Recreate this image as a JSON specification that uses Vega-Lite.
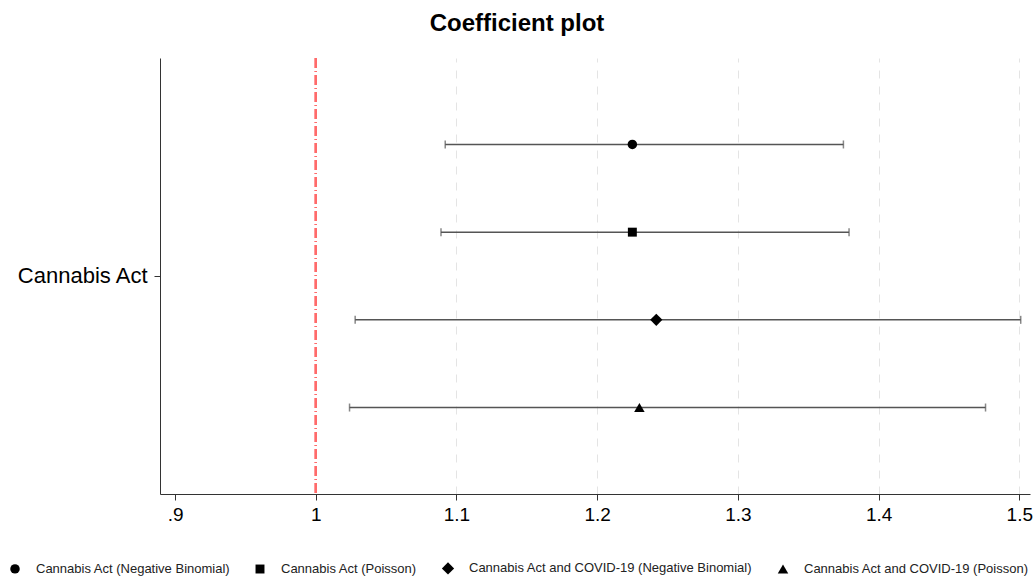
{
  "$schema": "https://vega.github.io/schema/vega-lite/v6.json",
  "width": 870,
  "height": 436,
  "autosize": "none",
  "padding": {"left": 160, "top": 58, "right": 5, "bottom": 85},
  "background": "white",
  "title": {"text": "Coefficient plot", "fontSize": 24, "fontWeight": "bold", "font": "Liberation Sans", "color": "black", "anchor": "middle", "frame": "group", "dx": -78, "offset": 21},
  "config": {"view": {"stroke": null}, "font": "Liberation Sans"},
  "data": {"values": [
    {"term": "Cannabis Act", "model": "Cannabis Act (Negative Binomial)", "est": 1.225, "lo": 1.092, "hi": 1.375},
    {"term": "Cannabis Act", "model": "Cannabis Act (Poisson)", "est": 1.225, "lo": 1.089, "hi": 1.379},
    {"term": "Cannabis Act", "model": "Cannabis Act and COVID-19 (Negative Binomial)", "est": 1.242, "lo": 1.028, "hi": 1.501},
    {"term": "Cannabis Act", "model": "Cannabis Act and COVID-19 (Poisson)", "est": 1.230, "lo": 1.024, "hi": 1.476}
  ]},
  "layer": [
    {
      "mark": {"type": "rule", "color": "#ff6b6b", "strokeWidth": 2, "strokeDash": [10, 3, 1, 3]},
      "encoding": {
        "x": {"datum": 1, "type": "quantitative", "scale": {"domain": [0.8893, 1.5076], "nice": false, "zero": false},
          "axis": {"values": [0.9, 1, 1.1, 1.2, 1.3, 1.4, 1.5], "title": null,
            "labelExpr": "datum.value == 0.9 ? '.9' : format(datum.value, '~g')",
            "labelFontSize": 19, "labelColor": "black", "labelPadding": 5, "labelFont": "Liberation Sans",
            "tickSize": 6, "tickColor": "#333", "domainColor": "#333", "tickWidth": 1, "domainWidth": 1,
            "grid": true, "gridDash": [8, 8], "gridWidth": 1,
            "gridColor": {"condition": {"test": "datum.value < 1.05", "value": "transparent"}, "value": "#e4e4e4"}}}
      }
    },
    {
      "mark": {"type": "rule", "color": "#555555", "strokeWidth": 1.5},
      "encoding": {
        "y": {"field": "term", "type": "nominal", "scale": {"paddingInner": 0, "paddingOuter": 0},
          "axis": {"title": null, "labelFontSize": 22, "labelColor": "black", "labelFont": "Liberation Sans", "labelLimit": 0, "tickSize": 6, "labelPadding": 7, "tickColor": "#333", "domainColor": "#333", "grid": false}},
        "yOffset": {"field": "model", "type": "nominal", "scale": {"paddingInner": 0, "paddingOuter": 0.486}},
        "x": {"field": "lo", "type": "quantitative"},
        "x2": {"field": "hi"}
      }
    },
    {
      "mark": {"type": "tick", "color": "#555555", "thickness": 1.5, "size": 8, "orient": "vertical"},
      "encoding": {
        "y": {"field": "term", "type": "nominal"},
        "yOffset": {"field": "model", "type": "nominal"},
        "x": {"field": "lo", "type": "quantitative"}
      }
    },
    {
      "mark": {"type": "tick", "color": "#555555", "thickness": 1.5, "size": 8, "orient": "vertical"},
      "encoding": {
        "y": {"field": "term", "type": "nominal"},
        "yOffset": {"field": "model", "type": "nominal"},
        "x": {"field": "hi", "type": "quantitative"}
      }
    },
    {
      "mark": {"type": "point", "filled": true, "color": "black", "opacity": 1},
      "encoding": {
        "y": {"field": "term", "type": "nominal"},
        "yOffset": {"field": "model", "type": "nominal"},
        "x": {"field": "est", "type": "quantitative"},
        "size": {"field": "model", "type": "nominal", "scale": {"type": "ordinal", "range": [90, 80, 150, 110]},
          "legend": {"title": null, "orient": "none", "direction": "horizontal", "columns": 4, "legendX": -152, "legendY": 503,
            "labelFontSize": 13, "labelColor": "#222", "labelFont": "Liberation Sans", "labelLimit": 0, "symbolFillColor": "black", "symbolStrokeColor": "black",
            "labelOffset": 14, "columnPadding": 21}},
        "shape": {"field": "model", "type": "nominal",
          "scale": {"range": ["circle", "square", "diamond", "triangle-up"]},
          "legend": {"title": null, "orient": "none", "direction": "horizontal", "columns": 4, "legendX": -152, "legendY": 503,
            "labelFontSize": 13, "labelColor": "#222", "labelFont": "Liberation Sans", "labelLimit": 0, "symbolFillColor": "black", "symbolStrokeColor": "black",
            "labelOffset": 14, "columnPadding": 21}}
      }
    }
  ]
}
